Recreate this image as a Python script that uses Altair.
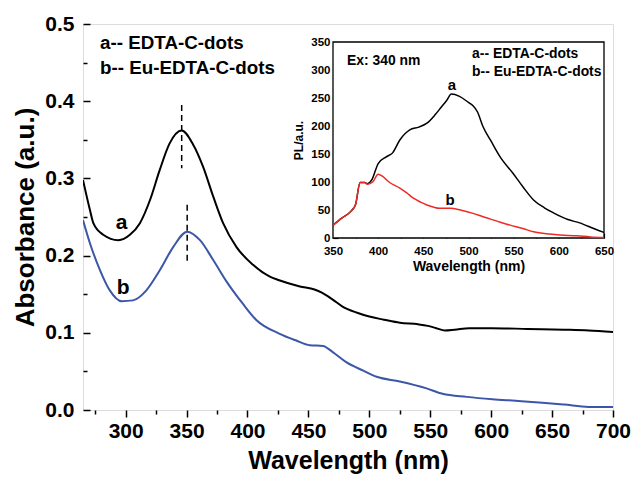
import altair as alt
import pandas as pd

# ---------------- data ----------------
# Main panel: UV-vis absorbance
uv_wl_a = [265, 270.7, 273.5, 281.6, 294, 303.5, 311.7, 320, 328, 336, 346, 355, 363.6, 372, 380,
           391, 404.6, 418, 426, 443, 455, 461, 470, 478, 490, 500, 512, 525, 540, 548, 555, 562,
           570, 582, 600, 630, 660, 680, 700]
uv_abs_a = [0.298, 0.259, 0.242, 0.227, 0.220, 0.227, 0.242, 0.272, 0.311, 0.345, 0.362, 0.345,
            0.315, 0.276, 0.242, 0.211, 0.188, 0.173, 0.168, 0.160, 0.156, 0.152, 0.143, 0.134,
            0.126, 0.121, 0.117, 0.113, 0.111, 0.109, 0.106, 0.103, 0.104, 0.106, 0.106, 0.105,
            0.104, 0.103, 0.101]
uv_wl_b = [265, 270.7, 279, 287, 296.7, 306, 317, 328, 339, 350.5, 361, 372, 383, 396, 407, 426,
           440, 451, 462, 470, 481, 495, 506, 525, 547, 560, 580, 601, 620, 642, 660, 680, 700]
uv_abs_b = [0.246, 0.216, 0.181, 0.155, 0.141, 0.142, 0.155, 0.181, 0.211, 0.231, 0.220, 0.194,
            0.166, 0.138, 0.117, 0.099, 0.090, 0.084, 0.083, 0.075, 0.062, 0.051, 0.043, 0.037,
            0.028, 0.021, 0.017, 0.014, 0.012, 0.0095, 0.007, 0.004, 0.004]

# Inset: photoluminescence (Ex: 340 nm)
pl_wl_a = [350, 360, 370, 375, 380, 385, 388, 393, 400, 409, 416, 424, 435, 445, 454, 463, 470,
           476, 481, 490, 500, 505, 510, 516, 525, 535, 549, 560, 572, 584, 594, 610, 623, 640, 650]
pl_int_a = [23, 36, 48, 60, 99, 99, 97, 104, 133, 145, 152, 175, 193, 198, 205, 220, 234, 246,
            257, 253, 242, 236, 225, 199, 173, 145, 116, 92, 68, 54, 45, 33, 27, 16, 10]
pl_wl_b = [350, 360, 370, 375, 380, 385, 388, 394, 400, 405, 412, 424, 432, 439, 447, 454, 468,
           480, 491, 505, 516, 530, 546, 560, 572, 590, 601, 620, 635, 650]
pl_int_b = [23, 36, 48, 60, 99, 99, 96, 100, 114, 110, 100, 89, 80, 71, 64, 59, 53, 53, 50, 44,
            38, 31, 23, 17, 11, 7, 5.4, 4, 2, 1]

series_names = ["a", "b"]
legend_lines = ["a-- EDTA-C-dots", "b-- Eu-EDTA-C-dots"]

# peak markers (dashed) : wavelength, top, bottom
peak_wl = [346, 350.5]
peak_top = [0.395, 0.266]
peak_bot = [0.313, 0.190]

main_x_ticks = list(range(300, 701, 50))
main_x_minor = list(range(275, 700, 50))
main_y_ticks = [0.0, 0.1, 0.2, 0.3, 0.4, 0.5]
main_y_minor = [0.05, 0.15, 0.25, 0.35, 0.45]
in_x_ticks = list(range(350, 651, 50))
in_x_minor = list(range(375, 650, 50))
in_y_ticks = list(range(0, 351, 50))
in_y_minor = list(range(25, 350, 50))

# ---------------- layout ----------------
W, H = 530, 386
FONT = "Liberation Sans"
BLUE = "#3c56a8"
RED = "#ee2a24"

# inset placement inside the plot area (pixels)
IN_X0, IN_X1 = 250, 521
IN_Y0, IN_Y1 = 214, 18

uv = pd.concat([
    pd.DataFrame({"wl": uv_wl_a, "val": uv_abs_a, "series": "a"}),
    pd.DataFrame({"wl": uv_wl_b, "val": uv_abs_b, "series": "b"}),
])
pl = pd.concat([
    pd.DataFrame({"wl": pl_wl_a, "val": pl_int_a, "series": "a"}),
    pd.DataFrame({"wl": pl_wl_b, "val": pl_int_b, "series": "b"}),
])

xmain = alt.Scale(domain=[265, 700], nice=False, zero=False)
ymain = alt.Scale(domain=[0, 0.5], nice=False, zero=False)

ax_common = dict(grid=False, labelFont=FONT, titleFont=FONT, labelColor="black",
                 titleColor="black", tickColor="black", domainColor="black",
                 labelFlush=False, labelOverlap=False)

main_lines = alt.Chart(uv).mark_line(strokeWidth=2, interpolate="monotone", clip=True).encode(
    x=alt.X("wl:Q", scale=xmain, axis=alt.Axis(
        orient="bottom", values=main_x_ticks, tickSize=7, tickWidth=1.5, domain=False,
        labelFontSize=21, labelFontWeight="bold", labelPadding=3,
        title="Wavelength (nm)", titleFontSize=25, titleFontWeight="bold", titlePadding=7,
        **ax_common)),
    y=alt.Y("val:Q", scale=ymain, axis=alt.Axis(
        orient="left", values=main_y_ticks, format=".1f", ticks=False, domain=False,
        labelFontSize=21, labelFontWeight="bold", labelPadding=9,
        title="Absorbance (a.u.)", titleFontSize=26, titleFontWeight="bold", titlePadding=6,
        **ax_common)),
    color=alt.Color("series:N", scale=alt.Scale(domain=series_names, range=["#000000", BLUE]),
                    legend=None),
    detail="series:N",
)

main_ticks = alt.Chart(uv).mark_line(opacity=0).encode(
    x=alt.X("wl:Q", axis=alt.Axis(orient="bottom", values=main_x_minor, tickSize=4,
                                  tickWidth=1.5, labels=False, domain=False, title=None,
                                  **ax_common)),
    y=alt.Y("val:Q", axis=alt.Axis(orient="right", offset=-W, values=main_y_ticks, tickSize=7,
                                   tickWidth=1.5, labels=False, domain=False, title=None,
                                   **ax_common)),
)
main_ticks2 = alt.Chart(uv).mark_line(opacity=0).encode(
    x=alt.X("wl:Q", axis=None),
    y=alt.Y("val:Q", axis=alt.Axis(orient="right", offset=-W, values=main_y_minor, tickSize=4,
                                   tickWidth=1.5, labels=False, domain=False, title=None,
                                   **ax_common)),
)

main_text_df = pd.DataFrame({
    "x": [279, 279, 296.7, 298],
    "y": [0.475, 0.443, 0.242, 0.158],
    "label": legend_lines + series_names,
    "fs": [18.8, 18.8, 21, 21],
})
main_text_a = alt.Chart(main_text_df).transform_filter("length(datum.label) > 1").mark_text(
    font=FONT, fontWeight="bold", align="left", baseline="middle", color="black"
).encode(
    x=alt.X("x:Q", axis=None), y=alt.Y("y:Q", axis=None), text="label:N",
    size=alt.Size("fs:Q", scale=None, legend=None),
)
main_text_b = alt.Chart(main_text_df).transform_filter("length(datum.label) == 1").mark_text(
    font=FONT, fontWeight="bold", align="center", baseline="middle", color="black"
).encode(
    x=alt.X("x:Q", axis=None), y=alt.Y("y:Q", axis=None), text="label:N",
    size=alt.Size("fs:Q", scale=None, legend=None),
)

peaks_df = pd.DataFrame({"wl": peak_wl, "top": peak_top, "bot": peak_bot})
peaks = alt.Chart(peaks_df).mark_rule(color="black", strokeWidth=1.5, strokeDash=[6, 4]).encode(
    x=alt.X("wl:Q", axis=None), y=alt.Y("top:Q", axis=None), y2="bot:Q",
)

main_group = alt.layer(main_lines, main_ticks, main_ticks2, peaks, main_text_a, main_text_b
                       ).resolve_axis(x="independent", y="independent")

# ---------------- inset ----------------
xin = alt.Scale(domain=[350, 650], range=[IN_X0, IN_X1], nice=False, zero=False)
yin = alt.Scale(domain=[0, 350], range=[IN_Y0, IN_Y1], nice=False, zero=False)

box_df = pd.DataFrame({"x1": [350], "x2": [650], "y1": [0], "y2": [350]})
inset_box = alt.Chart(box_df).mark_rect(fill="white", stroke="black", strokeWidth=1.3).encode(
    x=alt.X("x1:Q", scale=xin, axis=alt.Axis(
        orient="bottom", offset=IN_Y0 - H, values=in_x_ticks, ticks=False, domain=False,
        labelFontSize=11.5, labelFontWeight="bold", labelPadding=7,
        title="Wavelength (nm)", titleFontSize=14, titleFontWeight="bold", titlePadding=3,
        **ax_common)),
    x2="x2:Q",
    y=alt.Y("y1:Q", scale=yin, axis=alt.Axis(
        orient="left", offset=-IN_X0, values=in_y_ticks, ticks=False, domain=False,
        labelFontSize=11.5, labelFontWeight="bold", labelPadding=3,
        title="PL/a.u.", titleFontSize=12, titleFontWeight="bold", titlePadding=5,
        **ax_common)),
    y2="y2:Q",
)

inset_lines = alt.Chart(pl).mark_line(strokeWidth=1.5, interpolate="monotone").encode(
    x=alt.X("wl:Q", axis=alt.Axis(orient="top", offset=-IN_Y0, values=in_x_ticks, tickSize=5,
                                  tickWidth=1.2, labels=False, domain=False, title=None,
                                  **ax_common)),
    y=alt.Y("val:Q", axis=alt.Axis(orient="right", offset=IN_X0 - W, values=in_y_ticks,
                                   tickSize=5, tickWidth=1.2, labels=False, domain=False,
                                   title=None, **ax_common)),
    color=alt.Color("series:N", scale=alt.Scale(domain=series_names, range=["#000000", RED]),
                    legend=None),
    detail="series:N",
)
inset_ticks = alt.Chart(pl).mark_line(opacity=0).encode(
    x=alt.X("wl:Q", axis=alt.Axis(orient="top", offset=-IN_Y0, values=in_x_minor, tickSize=3,
                                  tickWidth=1.2, labels=False, domain=False, title=None,
                                  **ax_common)),
    y=alt.Y("val:Q", axis=alt.Axis(orient="right", offset=IN_X0 - W, values=in_y_minor,
                                   tickSize=3, tickWidth=1.2, labels=False, domain=False,
                                   title=None, **ax_common)),
)

inset_text_df = pd.DataFrame({
    "x": [365.5, 504, 504],
    "y": [316, 328.6, 296],
    "label": ["Ex: 340 nm"] + legend_lines,
})
inset_text = alt.Chart(inset_text_df).mark_text(
    font=FONT, fontWeight="bold", fontSize=13.9, align="left", baseline="middle", color="black"
).encode(x=alt.X("x:Q", axis=None), y=alt.Y("y:Q", axis=None), text="label:N")

inset_lbl_df = pd.DataFrame({"x": [481.7, 479.5], "y": [273, 68], "label": series_names})
inset_lbl = alt.Chart(inset_lbl_df).mark_text(
    font=FONT, fontWeight="bold", fontSize=15, align="center", baseline="middle", color="black"
).encode(x=alt.X("x:Q", axis=None), y=alt.Y("y:Q", axis=None), text="label:N")

inset_group = alt.layer(inset_box, inset_lines, inset_ticks, inset_text, inset_lbl
                        ).resolve_axis(x="independent", y="independent")

chart = alt.layer(main_group, inset_group).resolve_scale(
    x="independent", y="independent", color="independent", size="independent"
).properties(
    width=W, height=H,
    padding={"left": 83, "top": 24, "right": 20, "bottom": 67},
    autosize=alt.AutoSizeParams(type="none"),
).configure_view(stroke="black", strokeWidth=1.8).configure(font=FONT, background="white")

chart.save("out.html", embed_options={"renderer": "svg", "actions": False})
